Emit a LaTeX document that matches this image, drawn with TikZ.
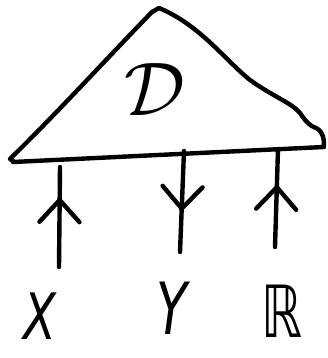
\documentclass[tikz,border=0pt]{standalone}
\usepackage{fontspec}
\newfontfamily\hand{DejaVu Sans}
\usetikzlibrary{decorations.markings}
\begin{document}
\begin{tikzpicture}[x=1pt,y=-1pt,
  ink/.style={line width=4.4pt,line cap=round,line join=round},
  lbl/.style={inner sep=0pt,font=\hand\itshape\fontsize{64}{64}\selectfont},
  midmark/.style={postaction={decorate},decoration={markings,
    mark=at position #1 with {\draw[ink] (-22,-20) -- (0,0) -- (-22,20);}}}]
\useasboundingbox (0,0) rectangle (327,358);
% triangle
\draw[ink] (13,161) -- (10,159)
  .. controls (60,110) and (110,55) .. (152,12)
  -- (159,8)
  .. controls (200,25) and (225,60) .. (250,80)
  .. controls (272,96) and (292,103) .. (300,113)
  .. controls (306,122) and (310,126) .. (316,128)
  .. controls (324,132) and (324,140) .. (324,147)
  -- (13,162) -- cycle;
\node (D) at (155,90) {\scalebox{7.6}{$\mathcal{D}$}};
% base points
\coordinate (bx) at (60,167);
\coordinate (by) at (184,151);
\coordinate (br) at (278,149);
\coordinate (ex) at (59,267);
\coordinate (ey) at (180,252);
\coordinate (er) at (275,247);
% labels
\node[lbl,xscale=0.75] (X) at (40,316) {X};
\node[lbl,xscale=0.7,font=\hand\itshape\fontsize{72}{72}\selectfont] (Y) at (172,308) {Y};
\node[lbl,xscale=0.72,font=\hand\fontsize{72}{72}\selectfont] (R) at (282,311) {ℝ};
% connectors
\draw[ink,midmark=0.67] (ex) -- (bx);
\draw[ink,midmark=0.57] (by) -- (ey);
\draw[ink,midmark=0.61] (er) -- (br);
\end{tikzpicture}
\end{document}
